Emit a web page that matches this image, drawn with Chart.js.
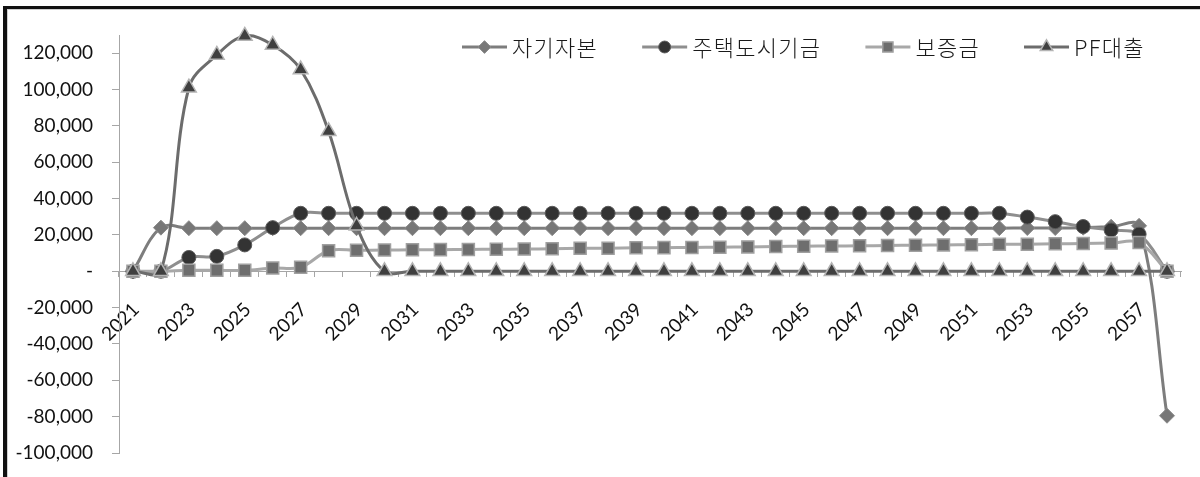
<!DOCTYPE html>
<html lang="ko">
<head>
<meta charset="utf-8">
<title>재원 조달 구조</title>
<script src="https://cdn.jsdelivr.net/npm/chart.js@4.4.0/dist/chart.umd.min.js"></script>
<style>
  html, body { margin: 0; padding: 0; background: #fff; overflow: hidden; }
  #frame {
    position: absolute; left: 3px; top: 6px; width: 1300px; height: 600px;
    border-left: 4px solid #111; border-top: 3px solid #111;
    box-shadow: inset 1px 1px 0 #cfcfcf;
  }
  #wrap { position: absolute; left: 0; top: 0; width: 1200px; height: 477px; }
</style>
</head>
<body>
<div id="frame"></div>
<div id="wrap"><canvas id="chart" width="1200" height="477"></canvas></div>
<script>
// Years on the category axis
const years = [];
for (let y = 2021; y <= 2058; y++) years.push(String(y));

// 자기자본 (equity)
const equity = [
  0, 24000, 23700, 23700, 23700, 23700, 23700, 23700, 23700, 23700,
  23700, 23700, 23700, 23700, 23700, 23700, 23700, 23700, 23700, 23700,
  23700, 23700, 23700, 23700, 23700, 23700, 23700, 23700, 23700, 23700,
  23700, 23700, 23800, 23800, 24000, 24500, 25000, -79500
];

// 주택도시기금 (housing & urban fund)
const hugFund = [
  0, 0, 7600, 8200, 14500, 24000, 31900, 31900, 31900, 31900,
  31900, 31900, 31900, 31900, 31900, 31900, 31900, 31900, 31900, 31900,
  31900, 31900, 31900, 31900, 31900, 31900, 31900, 31900, 31900, 31900,
  31900, 31900, 29800, 27300, 24600, 22700, 20400, 0
];

// 보증금 (deposits)
const deposit = [
  0, 0, 500, 500, 500, 1800, 2200, 11300, 11500, 11700,
  11800, 11900, 12000, 12100, 12200, 12400, 12600, 12700, 12900, 13000,
  13100, 13200, 13400, 13600, 13800, 13900, 14000, 14200, 14300, 14500,
  14600, 14800, 14900, 15100, 15300, 15500, 15800, 0
];

// PF대출 (project-finance loan)
const pfLoan = [
  0, 0, 101000, 119000, 129500, 124500, 111000, 77000, 25000, 0,
  0, 0, 0, 0, 0, 0, 0, 0, 0, 0,
  0, 0, 0, 0, 0, 0, 0, 0, 0, 0,
  0, 0, 0, 0, 0, 0, 0, 0
];

// Value axis ticks
const yTicks = [-100000, -80000, -60000, -40000, -20000, 0, 20000, 40000, 60000, 80000, 100000, 120000];
const yMin = -100000;
const yMax = 130000;

const seriesNames = ['자기자본', '주택도시기금', '보증금', 'PF대출'];

const NUM_FONT = { family: 'Lato, "Liberation Sans", sans-serif', size: 19 };
const AXIS_GRAY = '#a6a6a6';

function fmt(v) {
  if (v === 0) return '-';
  return v.toLocaleString('en-US');
}

// Legend drawn across the top of the plot, line sample + marker + name
const topLegend = {
  id: 'topLegend',
  afterDraw(chart) {
    const ctx = chart.ctx;
    const y = 47;
    const lineLen = 45;
    const textGap = 5;
    const itemGap = 44;
    let x = 462;
    ctx.save();
    ctx.font = '300 22px "Noto Sans CJK KR", sans-serif';
    if ('letterSpacing' in ctx) ctx.letterSpacing = '1.3px';
    ctx.textBaseline = 'middle';
    chart.data.datasets.forEach((ds) => {
      ctx.lineWidth = ds.borderWidth;
      ctx.strokeStyle = ds.borderColor;
      ctx.beginPath();
      ctx.moveTo(x, y);
      ctx.lineTo(x + lineLen, y);
      ctx.stroke();
      ctx.fillStyle = ds.pointBackgroundColor;
      ctx.strokeStyle = ds.pointBorderColor;
      ctx.lineWidth = ds.pointBorderWidth;
      Chart.helpers.drawPoint(ctx, {
        pointStyle: ds.pointStyle,
        radius: ds.pointRadius * 0.85,
        rotation: 0,
        borderWidth: ds.pointBorderWidth
      }, x + lineLen / 2, y);
      ctx.fillStyle = '#1a1a1a';
      const tx = x + lineLen + textGap;
      ctx.fillText(ds.label, tx, y + 1);
      x = tx + ctx.measureText(ds.label).width + itemGap;
    });
    ctx.restore();
  }
};

const makeSet = (i, data, style) => Object.assign({
  label: seriesNames[i],
  data: data,
  borderWidth: 3,
  pointBorderWidth: 1,
  pointHoverRadius: 0,
  tension: 0.36,
  clip: false,
  order: 4 - i
}, style);

const datasets = [
  makeSet(0, equity, {
    borderColor: '#7d7d7d', pointStyle: 'rectRot', pointRadius: 7.5,
    pointBackgroundColor: '#777777', pointBorderColor: '#8a8a8a'
  }),
  makeSet(1, hugFund, {
    borderColor: '#8e8e8e', pointStyle: 'circle', pointRadius: 7,
    pointBackgroundColor: '#333333', pointBorderColor: '#5a5a5a'
  }),
  makeSet(2, deposit, {
    borderColor: '#a8a8a8', pointStyle: 'rect', pointRadius: 8.5,
    pointBackgroundColor: '#6e6e6e', pointBorderColor: '#a0a0a0', pointBorderWidth: 1.5
  }),
  makeSet(3, pfLoan, {
    borderColor: '#6c6c6c', pointStyle: 'triangle', pointRadius: 8.5,
    pointBackgroundColor: '#3f3f3f', pointBorderColor: '#b4b4b4', pointBorderWidth: 1.5
  })
];

new Chart(document.getElementById('chart'), {
  type: 'line',
  data: { labels: years, datasets: datasets },
  plugins: [topLegend],
  options: {
    responsive: false,
    animation: false,
    events: [],
    layout: { padding: { left: 0, right: 19, top: 35, bottom: 24 } },
    elements: { line: { capBezierPoints: false } },
    plugins: {
      legend: { display: false },
      tooltip: { enabled: false }
    },
    scales: {
      x: {
        type: 'category',
        position: { y: 0 },
        offset: true,
        afterFit: (scale) => { scale.paddingLeft = 0; scale.paddingRight = 0; },
        grid: {
          drawOnChartArea: false, drawTicks: true, offset: true,
          tickLength: 5, color: AXIS_GRAY, lineWidth: 1
        },
        border: { display: true, color: AXIS_GRAY, width: 1 },
        ticks: {
          autoSkip: false, minRotation: 45, maxRotation: 45,
          padding: 22, labelOffset: 3, color: '#111', font: NUM_FONT,
          callback: (v, i) => (i % 2 === 0 ? years[i] : '')
        }
      },
      y: {
        min: yMin,
        max: yMax,
        afterBuildTicks: (scale) => { scale.ticks = yTicks.map((v) => ({ value: v })); },
        afterFit: (scale) => {
          scale.width = 119;
          scale.paddingTop = 0;
          scale.paddingBottom = 0;
        },
        grid: {
          drawOnChartArea: false, drawTicks: true,
          tickLength: 7, color: AXIS_GRAY, lineWidth: 1
        },
        border: { display: true, color: AXIS_GRAY, width: 1 },
        ticks: {
          padding: 19, color: '#111', font: NUM_FONT,
          callback: (v) => fmt(v)
        }
      }
    }
  }
});
</script>
</body>
</html>
